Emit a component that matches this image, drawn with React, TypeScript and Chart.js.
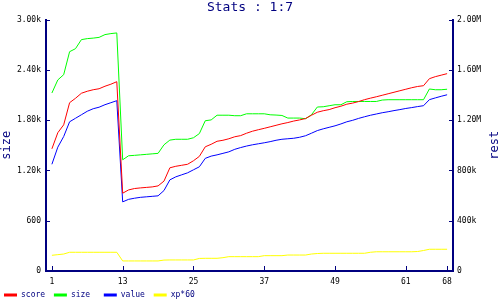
import React, { useEffect, useRef } from "react";
import { Chart, registerables } from "chart.js";

Chart.register(...registerables);

const NAVY = "#000080";
const FONT = "'DejaVu Sans Mono', monospace";

// categories (x positions 1..68)
const steps: number[] = Array.from({ length: 68 }, (_, i) => i + 1);
const xTickValues = [1, 13, 25, 37, 49, 61, 68];

const sizeTicks = [0, 600, 1200, 1800, 2400, 3000];
const sizeTickLabels = ["0", "600", "1.20k", "1.80k", "2.40k", "3.00k"];
// right axis values are in thousands
const restTicks = [0, 400, 800, 1200, 1600, 2000];
const restTickLabels = ["0", "400k", "800k", "1.20M", "1.60M", "2.00M"];

const seriesNames = ["score", "size", "value", "xp*60"];
const seriesColors = ["#ff0000", "#00ff00", "#0000ff", "#ffff00"];

const score = [
  972, 1100, 1163, 1339, 1374, 1414, 1430, 1442, 1450, 1470, 1486, 1506,
  619, 645, 656, 661, 665, 669, 677, 715,
  821, 833, 841, 849, 877, 912, 988, 1008, 1032, 1040,
  1052, 1068, 1077, 1096, 1112, 1124, 1135, 1147, 1159, 1171,
  1181, 1193, 1202, 1213, 1239, 1263, 1275, 1284, 1299, 1311,
  1327, 1336, 1348, 1363, 1375, 1386, 1398, 1410, 1422, 1434,
  1446, 1458, 1468, 1474, 1530, 1546, 1558, 1570,
];

const size = [
  2124, 2280, 2343, 2617, 2653, 2761, 2773, 2779, 2788, 2821, 2833, 2841,
  1327, 1375, 1380, 1386, 1392, 1398, 1404, 1506,
  1562, 1572, 1572, 1572, 1590, 1640, 1793, 1803, 1859, 1859,
  1859, 1853, 1853, 1876, 1876, 1876, 1876, 1864, 1861, 1856,
  1825, 1825, 1825, 1817, 1864, 1957, 1960, 1972, 1984, 1984,
  2020, 2023, 2023, 2023, 2023, 2023, 2040, 2044, 2044, 2044,
  2044, 2044, 2044, 2044, 2172, 2163, 2163, 2169,
];

const value = [
  849, 985, 1070, 1187, 1215, 1243, 1271, 1291, 1303, 1323, 1339, 1355,
  550, 570, 579, 586, 590, 594, 598, 640,
  725, 749, 765, 781, 805, 829, 896, 914, 924, 936,
  948, 968, 982, 994, 1004, 1012, 1020, 1029, 1040, 1048,
  1052, 1056, 1064, 1076, 1096, 1117, 1131, 1143, 1155, 1170,
  1187, 1199, 1214, 1227, 1239, 1249, 1259, 1267, 1276, 1284,
  1293, 1300, 1308, 1315, 1363, 1377, 1390, 1402,
];

const xp60 = [
  125, 130, 135, 149, 149, 149, 149, 149, 149, 149, 149, 149,
  80, 80, 80, 80, 80, 80, 80, 87,
  88, 88, 88, 88, 88, 100, 101, 101, 101, 106,
  114, 114, 114, 114, 114, 114, 122, 122, 122, 122,
  127, 127, 127, 127, 135, 139, 141, 141, 141, 141,
  141, 141, 141, 141, 149, 153, 153, 153, 153, 153,
  153, 153, 155, 163, 173, 173, 173, 173,
];

const seriesData = [score, size, value, xp60];
const seriesAxes = ["y1", "y", "y1", "y1"];

export default function App() {
  const ref = useRef<HTMLCanvasElement>(null);

  useEffect(() => {
    document.body.style.margin = "0";
    if (!ref.current) return;
    Chart.defaults.font.family = FONT;
    Chart.defaults.font.size = 8;

    const decor = {
      id: "decor",
      afterDraw(chart: any) {
        const { ctx, chartArea: a, scales } = chart;
        ctx.save();
        ctx.strokeStyle = NAVY;
        ctx.lineWidth = 1;
        ctx.beginPath();
        scales.x.ticks.forEach((t: any) => {
          const px = Math.round(scales.x.getPixelForValue(t.value)) + 0.5;
          ctx.moveTo(px, a.bottom);
          ctx.lineTo(px, a.bottom - 5);
        });
        scales.y.ticks.forEach((t: any) => {
          const py = Math.round(scales.y.getPixelForValue(t.value)) + 0.5;
          ctx.moveTo(a.left, py);
          ctx.lineTo(a.left + 4, py);
        });
        scales.y1.ticks.forEach((t: any) => {
          const py = Math.round(scales.y1.getPixelForValue(t.value)) + 0.5;
          ctx.moveTo(a.right, py);
          ctx.lineTo(a.right - 4, py);
        });
        ctx.stroke();
        ctx.fillStyle = NAVY;
        ctx.font = `12px ${FONT}`;
        ctx.translate(495, (a.top + a.bottom) / 2);
        ctx.rotate(-Math.PI / 2);
        ctx.textAlign = "center";
        ctx.textBaseline = "middle";
        ctx.fillText("rest", 0, 0);
        ctx.restore();
      },
    };

    const chart = new Chart(ref.current, {
      type: "line",
      data: {
        datasets: seriesNames.map((name, k) => ({
          label: name,
          data: seriesData[k].map((y, i) => ({ x: steps[i], y })),
          borderColor: seriesColors[k],
          backgroundColor: seriesColors[k],
          borderWidth: 1,
          pointRadius: 0,
          tension: 0,
          fill: false,
          yAxisID: seriesAxes[k],
        })),
      },
      options: {
        animation: false,
        responsive: true,
        maintainAspectRatio: false,
        layout: { padding: { top: 0, left: 0, right: 0, bottom: -9 } },
        plugins: {
          title: {
            display: true,
            text: "Stats : 1:7",
            color: NAVY,
            font: { family: FONT, size: 13, weight: "normal" },
            padding: { top: 0, bottom: 4 },
          },
          legend: {
            position: "bottom",
            align: "start",
            labels: {
              boxWidth: 13,
              boxHeight: 3,
              padding: 4,
              color: NAVY,
              font: { family: FONT, size: 8 },
              generateLabels: (c: any) =>
                Chart.defaults.plugins.legend.labels
                  .generateLabels(c)
                  .map((l: any) => ({ ...l, text: l.text.padEnd(6), lineWidth: 0 })),
            },
          },
          tooltip: { enabled: false },
        },
        scales: {
          x: {
            type: "linear",
            min: 0,
            max: 69,
            afterBuildTicks: (s: any) => {
              s.ticks = xTickValues.map((v) => ({ value: v }));
            },
            afterFit: (s: any) => {
              s.height = 16;
            },
            grid: { display: false, drawTicks: false },
            border: { display: true, color: NAVY, width: 2 },
            ticks: {
              color: "#000",
              font: { family: FONT, size: 8 },
              padding: 6,
              maxRotation: 0,
              autoSkip: false,
              callback: (v: any) => String(v),
            },
          },
          y: {
            position: "left",
            min: 0,
            max: 3000,
            afterBuildTicks: (s: any) => {
              s.ticks = sizeTicks.map((v) => ({ value: v }));
            },
            afterFit: (s: any) => {
              s.width = 46;
            },
            grid: { display: false, drawTicks: false },
            border: { display: true, color: NAVY, width: 2 },
            ticks: {
              color: "#000",
              font: { family: FONT, size: 8 },
              padding: 5,
              callback: (_v: any, i: number) => sizeTickLabels[i],
            },
            title: {
              display: true,
              text: "size",
              color: NAVY,
              font: { family: FONT, size: 12 },
              padding: 0,
            },
          },
          y1: {
            position: "right",
            min: 0,
            max: 2000,
            afterBuildTicks: (s: any) => {
              s.ticks = restTicks.map((v) => ({ value: v }));
            },
            afterFit: (s: any) => {
              s.width = 47;
            },
            grid: { display: false, drawTicks: false },
            border: { display: true, color: NAVY, width: 2 },
            ticks: {
              color: "#000",
              font: { family: FONT, size: 8 },
              padding: 4,
              callback: (_v: any, i: number) => restTickLabels[i],
            },
          },
        },
      },
      plugins: [decor],
    });

    return () => chart.destroy();
  }, []);

  return (
    <div style={{ width: 500, height: 300, position: "relative" }}>
      <canvas ref={ref} />
    </div>
  );
}
